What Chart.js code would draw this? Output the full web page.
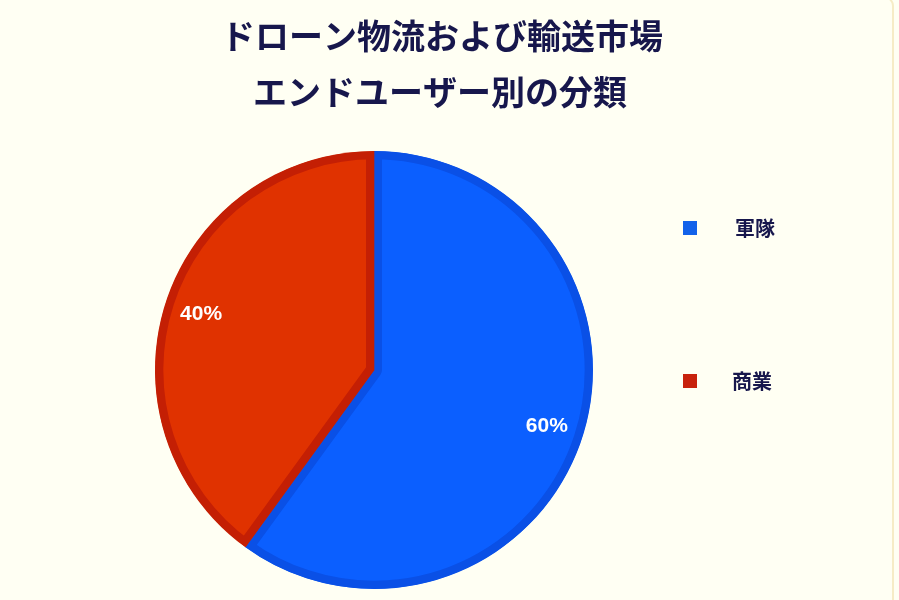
<!DOCTYPE html>
<html>
<head>
<meta charset="utf-8">
<script src="https://cdn.jsdelivr.net/npm/chart.js@4/dist/chart.umd.min.js"></script>
<style>
  html, body { margin: 0; padding: 0; background: #fffff3; }
  #wrap { position: relative; width: 899px; height: 600px; overflow: hidden; }
  #frame { position: absolute; left: -20px; top: -4px; width: 914px; height: 630px; border: 2px solid #f6ecc6; border-radius: 10px; box-sizing: border-box; }
  canvas { position: absolute; left: 0; top: 0; }
</style>
</head>
<body>
<div id="wrap">
  <div id="frame"></div>
  <canvas id="c" width="899" height="600"></canvas>
</div>
<script>
const titleLines = ["ドローン物流および輸送市場", "エンドユーザー別の分類"];
const categories = ["軍隊", "商業"];
const shares = [60, 40];
const fillColors = ["#0b5fff", "#e03200"];
const borderColors = ["#0a50e6", "#c41f04"];
const legendColors = ["#1262ea", "#c8220c"];

const titlePlugin = {
  id: 'twoLineTitle',
  afterDraw(chart) {
    const ctx = chart.ctx;
    ctx.save();
    ctx.fillStyle = '#17174c';
    ctx.font = 'bold 34px "Noto Sans CJK JP", "Noto Sans", sans-serif';
    ctx.textAlign = 'center';
    ctx.textBaseline = 'middle';
    ctx.fillText(titleLines[0], 442, 36);
    ctx.fillText(titleLines[1], 440, 92);
    ctx.restore();
  }
};

const sliceLabels = {
  id: 'sliceLabels',
  afterDatasetsDraw(chart) {
    const ctx = chart.ctx;
    const meta = chart.getDatasetMeta(0);
    const data = chart.data.datasets[0].data;
    const total = data.reduce((a, b) => a + b, 0);
    ctx.save();
    ctx.fillStyle = '#ffffff';
    ctx.font = 'bold 21px "Liberation Sans", Arial, sans-serif';
    ctx.textAlign = 'center';
    ctx.textBaseline = 'middle';
    meta.data.forEach((arc, i) => {
      const p = arc.getProps(['x', 'y', 'startAngle', 'endAngle', 'outerRadius'], true);
      const mid = (p.startAngle + p.endAngle) / 2;
      const r = p.outerRadius * 0.83;
      const pct = Math.round(data[i] / total * 100) + '%';
      ctx.fillText(pct, p.x + Math.cos(mid) * r, p.y + Math.sin(mid) * r);
    });
    ctx.restore();
  }
};

const sideLegend = {
  id: 'sideLegend',
  afterDraw(chart) {
    const ctx = chart.ctx;
    const ys = [228, 381];
    const tx = [735, 732];
    ctx.save();
    ctx.font = 'bold 20px "Noto Sans CJK JP", sans-serif';
    ctx.textBaseline = 'middle';
    ctx.textAlign = 'left';
    chart.data.labels.forEach((lab, i) => {
      ctx.fillStyle = legendColors[i];
      ctx.fillRect(683, ys[i] - 7, 14, 14);
      ctx.fillStyle = '#17174c';
      ctx.fillText(lab, tx[i], ys[i]);
    });
    ctx.restore();
  }
};

new Chart(document.getElementById('c'), {
  type: 'pie',
  data: {
    labels: categories,
    datasets: [{
      data: shares,
      backgroundColor: fillColors,
      borderColor: borderColors,
      borderWidth: 8,
      borderAlign: 'inner',
      hoverOffset: 0
    }]
  },
  options: {
    responsive: false,
    animation: false,
    layout: { padding: { top: 151, bottom: 11, left: 155, right: 306 } },
    plugins: {
      legend: { display: false },
      title: { display: false },
      tooltip: { enabled: false }
    }
  },
  plugins: [titlePlugin, sliceLabels, sideLegend]
});
</script>
</body>
</html>
